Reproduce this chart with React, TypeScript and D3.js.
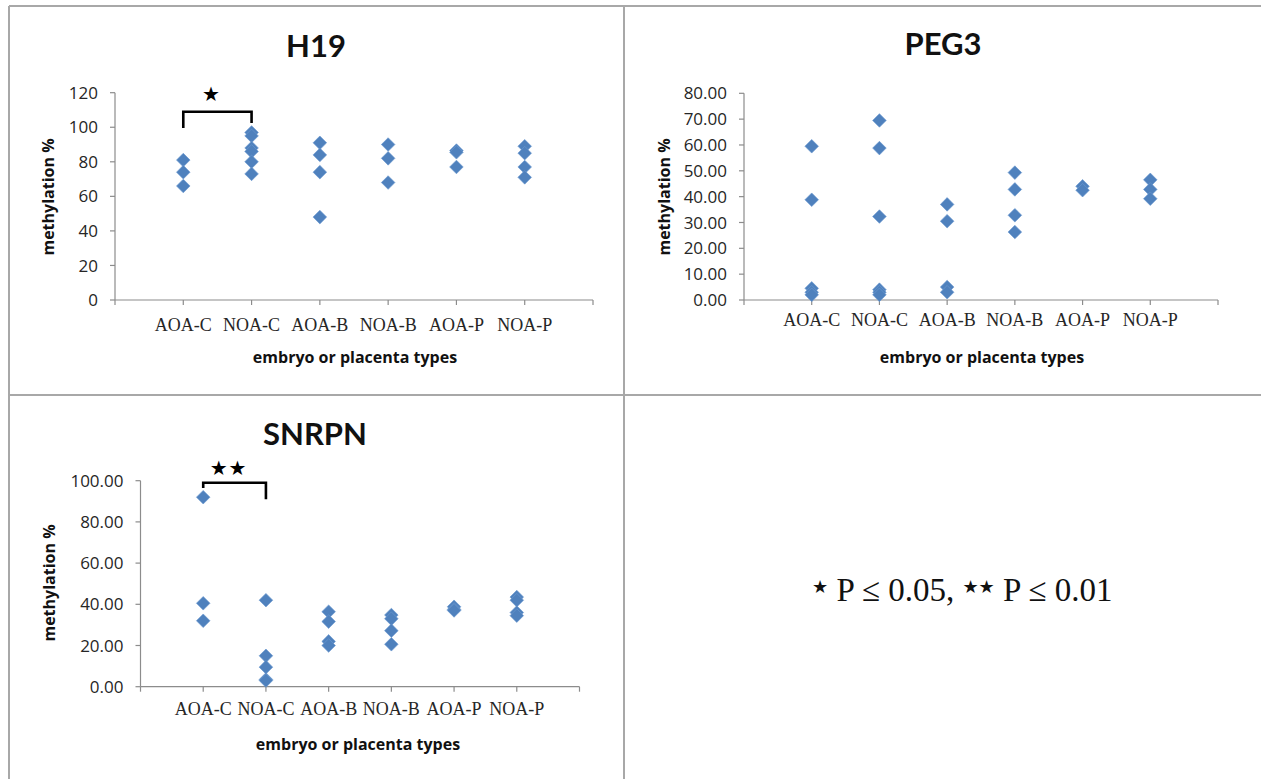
import React from "react";
import * as d3 from "d3";

// ---------- data ----------
const CATEGORIES = ["AOA-C", "NOA-C", "AOA-B", "NOA-B", "AOA-P", "NOA-P"];

const H19_VALUES = [
  [81, 74, 66],
  [97, 95, 88, 86, 80, 73],
  [91, 84, 74, 48],
  [90, 82, 68],
  [86.5, 85.5, 77],
  [89, 85, 77, 71],
];
const PEG3_VALUES = [
  [59.5, 38.8, 4.5, 3.0, 2.0],
  [69.5, 58.8, 32.3, 4.0, 3.0, 2.0],
  [37, 30.5, 5, 3],
  [49.3, 42.8, 32.8, 26.3],
  [44, 42.5],
  [46.5, 42.8, 39.2],
];
const SNRPN_VALUES = [
  [92, 40.5, 32],
  [42, 15, 9.5, 3.5, 3],
  [36.4, 31.6, 22, 20],
  [34.8, 33, 27.2, 20.6],
  [38.8, 37.5, 37],
  [43.5, 42, 36, 34.5],
];

const H19_TICKS = [0, 20, 40, 60, 80, 100, 120];
const PEG3_TICKS = [0, 10, 20, 30, 40, 50, 60, 70, 80];
const SNRPN_TICKS = [0, 20, 40, 60, 80, 100];

const H19_BRACKET = { from: 0, to: 1, level: 109, leftEnd: 99.5, rightEnd: 102.5, labelLevel: 119, label: "★" };
const SNRPN_BRACKET = { from: 0, to: 1, level: 99, leftEnd: 96.5, rightEnd: 91, labelLevel: 106, label: "★★" };

const Y_TITLE = "methylation %";
const X_TITLE = "embryo or placenta types";
const LEGEND = { star1: "★", text1: " P ≤ 0.05, ", star2: "★★", text2: " P ≤ 0.01" };

// ---------- layout ----------
const SANS = "'Open Sans', Lato, sans-serif";
const TITLE_FONT = "Lato, 'Open Sans', sans-serif";
const SERIF = "'Liberation Serif', 'Times New Roman', serif";
const STAR_FONT = "'DejaVu Sans', sans-serif";
const BLUE = "#4f81bd";
const AXIS = "#8c8c8c";
const BORDER = "#a8a8a8";

type Panel = {
  title: string;
  values: number[][];
  ticks: number[];
  fmt: (v: number) => string;
  x0: number; x1: number; yBottom: number; yTop: number;
  titleX: number; titleY: number;
  xLabelY: number; xTitleX: number; xTitleY: number;
  yTitleX: number; yTitleY: number;
  bracket?: typeof H19_BRACKET;
};

const PANELS: Panel[] = [
  {
    title: "H19", values: H19_VALUES, ticks: H19_TICKS, fmt: d3.format("d"),
    x0: 115, x1: 593, yBottom: 300, yTop: 92.7,
    titleX: 316, titleY: 57, xLabelY: 331, xTitleX: 355, xTitleY: 363,
    yTitleX: 48, yTitleY: 197, bracket: H19_BRACKET,
  },
  {
    title: "PEG3", values: PEG3_VALUES, ticks: PEG3_TICKS, fmt: d3.format(".2f"),
    x0: 744, x1: 1218, yBottom: 300, yTop: 93.3,
    titleX: 943, titleY: 55, xLabelY: 326, xTitleX: 982, xTitleY: 363,
    yTitleX: 664, yTitleY: 197,
  },
  {
    title: "SNRPN", values: SNRPN_VALUES, ticks: SNRPN_TICKS, fmt: d3.format(".2f"),
    x0: 140.5, x1: 579.5, yBottom: 686.7, yTop: 480.7,
    titleX: 315, titleY: 445, xLabelY: 715, xTitleX: 358, xTitleY: 750,
    yTitleX: 49, yTitleY: 583, bracket: SNRPN_BRACKET,
  },
];

const diamond = d3.symbol(d3.symbolSquare, 2 * 6.8 * 6.8)();

function ChartPanel({ p }: { p: Panel }) {
  const x = d3.scaleLinear().domain([0, CATEGORIES.length + 1]).range([p.x0, p.x1]);
  const yMax = p.ticks[p.ticks.length - 1];
  const y = d3.scaleLinear().domain([0, yMax]).range([p.yBottom, p.yTop]);
  const xTicks = d3.range(0, CATEGORIES.length + 2);
  const b = p.bracket;
  return (
    <g>
      <text x={p.titleX} y={p.titleY} textAnchor="middle" fontFamily={TITLE_FONT} fontWeight="bold" fontSize={31} fill="#111">
        {p.title}
      </text>
      {/* y axis */}
      <line x1={p.x0} x2={p.x0} y1={y(0)} y2={y(yMax)} stroke={AXIS} strokeWidth={1.2} />
      {p.ticks.map((t) => (
        <g key={"yt" + t}>
          <line x1={p.x0 - 5} x2={p.x0} y1={y(t)} y2={y(t)} stroke={AXIS} strokeWidth={1.2} />
          <text x={p.x0 - 17} y={y(t)} dy="0.36em" textAnchor="end" fontFamily={SANS} fontSize={17} fill="#262626">
            {p.fmt(t)}
          </text>
        </g>
      ))}
      {/* x axis */}
      <line x1={x(0)} x2={x(CATEGORIES.length + 1)} y1={y(0)} y2={y(0)} stroke={AXIS} strokeWidth={1.2} />
      {xTicks.map((t) => (
        <line key={"xt" + t} x1={x(t)} x2={x(t)} y1={y(0)} y2={y(0) + 5} stroke={AXIS} strokeWidth={1.2} />
      ))}
      {CATEGORIES.map((c, i) => (
        <text key={c} x={x(i + 1)} y={p.xLabelY} textAnchor="middle" fontFamily={SERIF} fontSize={18} fill="#262626">
          {c}
        </text>
      ))}
      <text x={p.xTitleX} y={p.xTitleY} textAnchor="middle" fontFamily={SANS} fontWeight="bold" fontSize={16} fill="#111">
        {X_TITLE}
      </text>
      <text
        transform={`translate(${p.yTitleX},${p.yTitleY}) rotate(-90)`}
        dy="0.35em" textAnchor="middle" fontFamily={SANS} fontWeight="bold" fontSize={16} fill="#111"
      >
        {Y_TITLE}
      </text>
      {/* points */}
      {p.values.map((vals, i) =>
        vals.map((v, j) => (
          <path
            key={`pt${i}-${j}`}
            d={diamond as string}
            transform={`translate(${x(i + 1)},${y(v)}) rotate(45)`}
            fill={BLUE}
            stroke="#6a98d0"
            strokeWidth={0.6}
          />
        ))
      )}
      {b && (
        <g>
          <path
            d={`M${x(b.from + 1)},${y(b.leftEnd)}V${y(b.level)}H${x(b.to + 1)}V${y(b.rightEnd)}`}
            fill="none" stroke="#000" strokeWidth={2.6}
          />
          <text
            x={(x(b.from + 1) + x(b.to + 1)) / 2 - 6} y={y(b.labelLevel)} dy="0.35em"
            textAnchor="middle" fontFamily={STAR_FONT} fontSize={20} letterSpacing={1} fill="#000"
          >
            {b.label}
          </text>
        </g>
      )}
    </g>
  );
}

export default function App() {
  return (
    <svg
      width={1261} height={779} viewBox="0 0 1261 779"
      style={{ position: "absolute", left: 0, top: 0, display: "block", background: "#fff" }}
    >
      <rect x={0} y={0} width={1261} height={779} fill="#fff" />
      {/* grid borders */}
      <line x1={9} x2={1261} y1={6} y2={6} stroke={BORDER} strokeWidth={2} />
      <line x1={9} x2={9} y1={6} y2={779} stroke={BORDER} strokeWidth={2} />
      <line x1={624} x2={624} y1={6} y2={779} stroke={BORDER} strokeWidth={2} />
      <line x1={9} x2={1261} y1={395} y2={395} stroke={BORDER} strokeWidth={2} />
      {PANELS.map((p) => (
        <ChartPanel key={p.title} p={p} />
      ))}
      {/* legend */}
      <text x={812} y={601} fontFamily={SERIF} fontSize={33} fill="#111">
        <tspan fontFamily={STAR_FONT} fontSize={18} dy={-8}>{LEGEND.star1}</tspan>
        <tspan dy={8}>{LEGEND.text1}</tspan>
        <tspan fontFamily={STAR_FONT} fontSize={18} dy={-8}>{LEGEND.star2}</tspan>
        <tspan dy={8}>{LEGEND.text2}</tspan>
      </text>
    </svg>
  );
}
